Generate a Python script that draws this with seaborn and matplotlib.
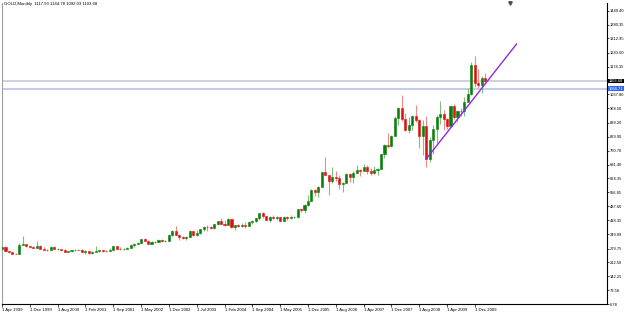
import seaborn as sns
import matplotlib.pyplot as plt
import matplotlib.transforms as mtransforms

# Monthly GOLD candles, one bar per entry (Apr 1999 .. Mar 2010, broker data has a few extra bars)
opens = [279, 286, 268, 262, 255, 255, 299, 303,
         292, 288, 284, 293, 278, 274, 272, 288,
         276, 277, 273, 264, 266, 270, 274, 272,
         265, 267, 258, 264, 267, 270, 268, 266,
         273, 293, 279, 275, 277, 282, 297, 302,
         308, 326, 318, 304, 312, 314, 323, 316,
         318, 347, 368, 348, 334, 330, 336, 364,
         346, 354, 375, 388, 386, 382, 398, 416,
         400, 396, 423, 388, 393, 390, 395, 391,
         408, 415, 428, 453, 438, 422, 435, 428,
         435, 417, 437, 429, 433, 436, 473, 470,
         495, 513, 568, 556, 582, 654, 643, 613,
         633, 626, 599, 604, 646, 632, 650, 665,
         663, 680, 659, 650, 665, 673, 743, 789,
         783, 834, 923, 972, 916, 865, 885, 930,
         913, 833, 880, 718, 814, 869, 928, 942,
         916, 883, 980, 927, 955, 955, 1001, 1040,
         1182, 1096, 1083, 1118]
highs = [292, 290, 268, 264, 258, 305, 340, 304,
         293, 292, 316, 295, 287, 277, 293, 290,
         282, 278, 276, 268, 272, 276, 275, 275,
         270, 269, 266, 293, 272, 274, 271, 280,
         294, 294, 285, 282, 285, 304, 305, 311,
         328, 331, 322, 316, 318, 326, 325, 321,
         350, 372, 389, 352, 340, 342, 372, 365,
         371, 377, 390, 395, 392, 400, 417, 429,
         419, 428, 427, 395, 398, 404, 411, 416,
         420, 430, 456, 457, 439, 438, 447, 438,
         436, 442, 438, 446, 440, 474, 478, 498,
         541, 572, 574, 587, 654, 731, 643, 679,
         663, 640, 608, 650, 649, 661, 690, 669,
         697, 692, 674, 684, 675, 745, 795, 848,
         838, 930, 976, 1033, 946, 929, 935, 988,
         918, 911, 933, 828, 887, 935, 1006, 962,
         921, 980, 989, 960, 970, 1025, 1070, 1195,
         1227, 1161, 1127, 1145]
lows = [277, 267, 256, 252, 251, 253, 296, 288,
        280, 281, 282, 276, 272, 269, 270, 275,
        271, 268, 263, 263, 263, 268, 270, 262,
        255, 255, 254, 263, 265, 264, 264, 266,
        271, 276, 271, 272, 276, 281, 289, 300,
        306, 315, 300, 302, 308, 311, 312, 313,
        316, 343, 345, 322, 326, 320, 335, 342,
        341, 351, 368, 365, 378, 377, 394, 398,
        390, 395, 381, 371, 386, 385, 383, 389,
        398, 409, 422, 428, 418, 410, 424, 422,
        414, 415, 418, 427, 430, 431, 460, 456,
        490, 513, 538, 534, 580, 640, 543, 604,
        613, 573, 560, 603, 609, 603, 649, 636,
        662, 648, 641, 648, 642, 670, 723, 774,
        781, 834, 885, 908, 860, 846, 862, 900,
        774, 740, 681, 704, 746, 801, 893, 864,
        866, 876, 916, 903, 934, 934, 1003, 1033,
        1075, 1071, 1044, 1092]
closes = [286, 268, 262, 255, 254, 299, 303, 292,
          288, 284, 293, 278, 274, 272, 288, 276,
          277, 273, 264, 266, 270, 274, 272, 265,
          267, 258, 264, 267, 270, 268, 266, 273,
          293, 279, 275, 277, 282, 297, 302, 308,
          326, 318, 304, 312, 314, 323, 316, 318,
          347, 368, 348, 334, 330, 336, 364, 346,
          354, 375, 388, 386, 382, 398, 416, 400,
          396, 423, 388, 393, 390, 395, 391, 408,
          415, 428, 453, 438, 422, 435, 428, 435,
          417, 437, 429, 433, 436, 473, 470, 495,
          513, 568, 556, 582, 654, 643, 613, 633,
          626, 599, 604, 646, 632, 650, 665, 663,
          680, 659, 650, 665, 673, 743, 789, 783,
          834, 923, 972, 916, 865, 885, 930, 913,
          833, 880, 718, 814, 869, 928, 942, 916,
          883, 980, 927, 955, 955, 1001, 1040, 1182,
          1096, 1083, 1118, 1104]

date_labels = ["1 Apr 1999", "1 Dec 1999", "1 Aug 2000", "1 Feb 2001", "1 Sep 2001",
               "1 May 2002", "1 Dec 2002", "1 Jul 2003", "1 Feb 2004", "1 Sep 2004",
               "1 May 2005", "1 Dec 2005", "1 Aug 2006", "1 Apr 2007", "1 Dec 2007",
               "1 Aug 2008", "1 Apr 2009", "1 Dec 2009"]
price_labels = ["6.78", "73.58", "142.25", "212.50", "279.75", "349.09", "418.35",
                "487.60", "556.85", "624.35", "691.40", "760.70", "829.90", "899.20",
                "968.50", "1037.80", "1174.35", "1243.60", "1312.95", "1380.35", "1449.40"]

title_text = "GOLD,Monthly  1117.93 1144.78 1092.03 1103.68"
bid_price = 1103.68
level_price = 1066.71
trend_x = [122, 148]
trend_y = [720, 1286]

sns.set_theme(style="white")
plt.rcParams['font.family'] = ['Liberation Sans', 'DejaVu Sans']

fig = plt.figure(figsize=(6.25, 3.13), dpi=100)
ax = fig.add_axes([2 / 625, 9 / 313, 605 / 625, 301 / 313])

bars = list(range(len(closes)))
up = [c >= o for o, c in zip(opens, closes)]
body_col = ["#0b7d0b" if u else "#e01010" for u in up]
wick_col = ["#7fbf7f" if u else "#f08a8a" for u in up]

ax.vlines(bars, lows, highs, colors=wick_col, lw=0.8, zorder=2)
ax.bar(bars, [abs(c - o) for o, c in zip(opens, closes)],
       bottom=[min(o, c) for o, c in zip(opens, closes)],
       width=0.6, color=body_col, edgecolor=body_col, lw=0.4, zorder=3)

# price lines
ax.axhline(bid_price, color="#c4cad8", lw=1.2, zorder=1)
ax.axhline(level_price, color="#b4c4ee", lw=1.2, zorder=1)

# trend line
sns.lineplot(x=trend_x, y=trend_y, ax=ax, color="#8a2be2", lw=1.0, zorder=4)

ax.set_xlim(0.14, 174)
ax.set_ylim(6.78, 1487.4)

ax.set_xticks(list(range(0, 8 * len(date_labels), 8)))
ax.set_xticklabels(date_labels, ha="left", fontsize=3.1)
ax.yaxis.tick_right()
ax.set_yticks([float(p) for p in price_labels])
ax.set_yticklabels(price_labels, fontsize=2.9)
ax.tick_params(axis="x", length=2, width=0.5, pad=1, colors="black", bottom=True)
ax.tick_params(axis="y", length=1.5, width=0.5, pad=0.6, colors="black", right=True)

ax.spines["top"].set_visible(False)
ax.spines["left"].set_color("#a0a0a0")
ax.spines["bottom"].set_color("black")
ax.spines["right"].set_color("black")
for s in ax.spines.values():
    s.set_linewidth(0.8)

trans = mtransforms.blended_transform_factory(ax.transAxes, ax.transData)
ax.text(1.003, bid_price, f"{bid_price:.2f}", transform=trans, fontsize=2.9, color="white",
        va="center", ha="left", clip_on=False,
        bbox=dict(boxstyle="square,pad=0.12", fc="black", ec="none"))
ax.text(1.003, level_price, f"{level_price:.2f}", transform=trans, fontsize=2.9, color="white",
        va="center", ha="left", clip_on=False,
        bbox=dict(boxstyle="square,pad=0.12", fc="#3366ee", ec="none"))

# chart shift marker
ax.plot([146], [1487.4], marker="v", color="#505050", ms=2.5, clip_on=False)

fig.text(4 / 625, 1 - 4 / 313, title_text, fontsize=3.1, va="center", ha="left", color="black")

fig.savefig("out.png", dpi=100, facecolor="white")
